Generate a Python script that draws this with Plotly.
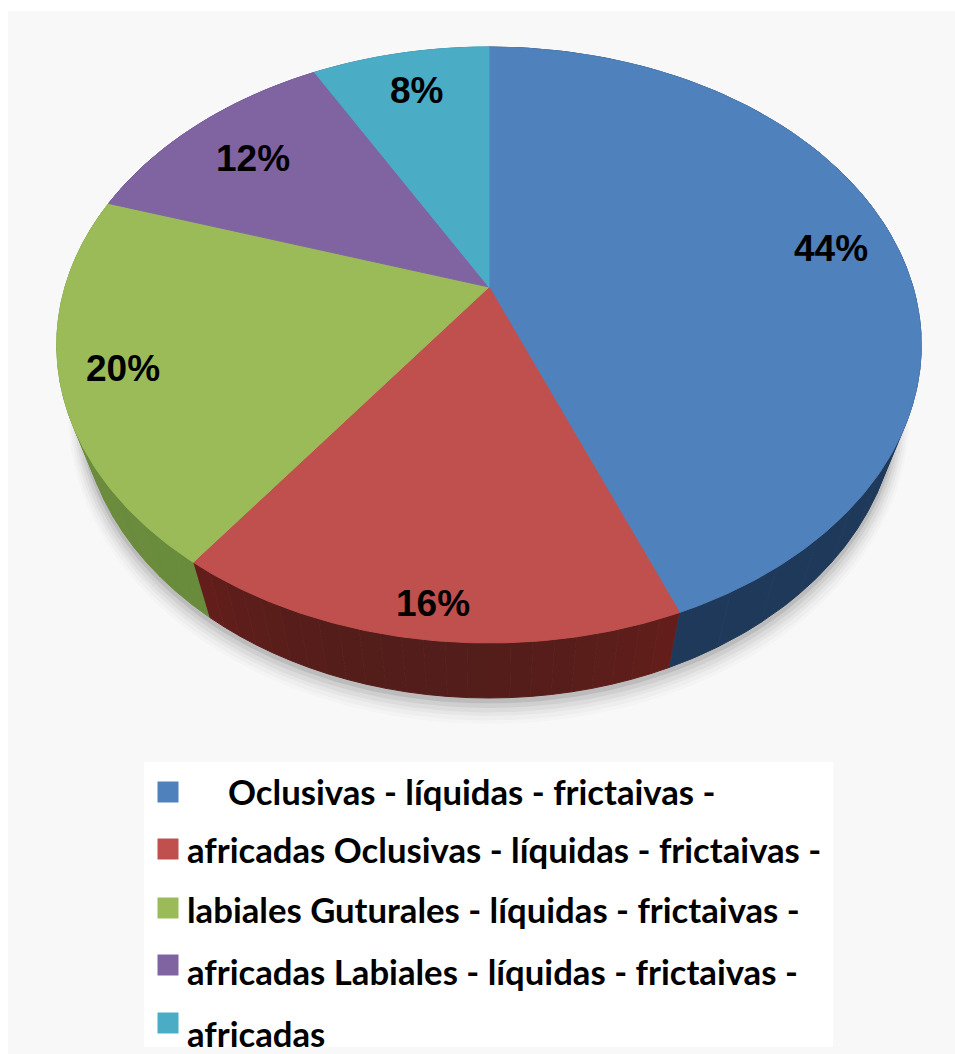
import numpy as np
import plotly.graph_objects as go

# ---- data ----
SHARES = [44, 16, 20, 12, 8]
PERCENT_LABELS = ["44%", "16%", "20%", "12%", "8%"]
LEGEND_LINES = [
    "Oclusivas - líquidas - frictaivas -",
    "africadas Oclusivas - líquidas - frictaivas -",
    "labiales Guturales - líquidas - frictaivas -",
    "africadas Labiales - líquidas - frictaivas -",
    "africadas",
]

# ---- style / layout ----
W, H = 955, 1054
TOP_COLORS = ["#4f81bd", "#c0504d", "#9bbb59", "#8064a2", "#4bacc6"]
SIDE_CENTER = [(30, 57, 90), (82, 29, 26), (108, 139, 61), (85, 64, 122), (44, 127, 150)]
SIDE_EDGE = [(30, 57, 90), (100, 30, 27), (104, 140, 60), (85, 64, 122), (44, 127, 150)]
APEX_X, APEX_Y = 489, 287
SCALE_X, SCALE_Y, PERSPECTIVE = 424, 286.7, 0.1946
DEPTH = 55
SIDE_SHRINK = 0.945
LABEL_XY = [(831, 248), (433, 603), (123, 368), (253, 158), (416, 90)]
LEGEND_Y = [791, 849, 909, 971, 1033]
LEGEND_X = [226, 185, 185, 185, 185]
SWATCH_Y = [792, 849, 908, 965, 1023]
FONT_LEGEND = "Lato"


def rim(a, shrink=1.0, drop=0.0, grow=0.0):
    """Project points of the pie's circular rim (angle in radians, clockwise from top)."""
    u, v = np.sin(a), np.cos(a)
    d = 1 + PERSPECTIVE * v
    x = APEX_X + (SCALE_X * shrink + grow) * u / d
    y = APEX_Y - (SCALE_Y + grow) * v / d + drop
    return x, y


def arc(start, end):
    n = max(int(abs(end - start) * 90), 8)
    return np.linspace(start, end, n)


fractions = np.cumsum([0] + SHARES) / sum(SHARES)
angles = 2 * np.pi * fractions

fig = go.Figure()

# soft shadow under the pie
full = np.linspace(0, 2 * np.pi, 360)
for grow, drop, alpha in [(12, 66, 0.02), (10, 65, 0.03), (8, 63, 0.04), (6, 62, 0.06), (4, 60, 0.08), (2, 58, 0.12)]:
    sx, sy = rim(full, SIDE_SHRINK, drop, grow)
    fig.add_trace(go.Scatter(x=sx, y=sy, mode="lines", fill="toself", line=dict(width=0),
                             fillcolor=f"rgba(60,60,60,{alpha})", hoverinfo="skip", showlegend=False))

# side walls, shaded along the arc in narrow bands
for i in range(len(SHARES)):
    edges = np.linspace(angles[i], angles[i + 1], 25)
    for j in range(len(edges) - 1):
        t = abs((j + 0.5) / (len(edges) - 1) * 2 - 1) ** 2
        col = [round(c + (e - c) * t) for c, e in zip(SIDE_CENTER[i], SIDE_EDGE[i])]
        color = f"rgb({col[0]},{col[1]},{col[2]})"
        a = arc(edges[j], edges[j + 1])
        x0, y0 = rim(a)
        x1, y1 = rim(a, SIDE_SHRINK, DEPTH)
        fig.add_trace(go.Scatter(x=np.r_[x0, x1[::-1]], y=np.r_[y0, y1[::-1]], mode="lines", fill="toself",
                                 line=dict(width=1, color=color), fillcolor=color,
                                 hoverinfo="skip", showlegend=False))

# top face
for i in range(len(SHARES)):
    a = arc(angles[i], angles[i + 1])
    x0, y0 = rim(a)
    fig.add_trace(go.Scatter(x=np.r_[APEX_X, x0, APEX_X], y=np.r_[APEX_Y, y0, APEX_Y], mode="lines",
                             fill="toself", line=dict(width=1, color=TOP_COLORS[i]),
                             fillcolor=TOP_COLORS[i], name=PERCENT_LABELS[i],
                             hoverinfo="skip", showlegend=False))

# legend swatches
fig.add_trace(go.Scatter(x=[168] * len(SWATCH_Y), y=SWATCH_Y, mode="markers",
                         marker=dict(symbol="square", size=21, color=TOP_COLORS, line=dict(width=0)),
                         hoverinfo="skip", showlegend=False))

annotations = []
for label, (x, y) in zip(PERCENT_LABELS, LABEL_XY):
    annotations.append(dict(x=x, y=y, xref="x", yref="y", text=f"<b>{label}</b>", showarrow=False,
                            xanchor="center", yanchor="middle",
                            font=dict(family="Liberation Sans", size=37, color="#000000")))
for text, x, y in zip(LEGEND_LINES, LEGEND_X, LEGEND_Y):
    annotations.append(dict(x=x, y=y, xref="x", yref="y", text=f"<b>{text}</b>", showarrow=False,
                            xanchor="left", yanchor="middle",
                            font=dict(family=FONT_LEGEND, size=34.7, color="#000000")))

fig.update_layout(
    width=W, height=H, margin=dict(l=0, r=0, t=0, b=0),
    paper_bgcolor="#ffffff", plot_bgcolor="#ffffff",
    xaxis=dict(range=[0, W], visible=False, fixedrange=True),
    yaxis=dict(range=[H, 0], visible=False, fixedrange=True),
    annotations=annotations,
    shapes=[
        dict(type="rect", x0=8, y0=11, x1=W, y1=H, layer="below", line=dict(width=0), fillcolor="#f8f8f8"),
        dict(type="rect", x0=144, y0=762, x1=833, y1=1047, layer="below", line=dict(width=0), fillcolor="#ffffff"),
    ],
)
fig.write_html("out.html", default_width=f"{W}px", default_height=f"{H}px",
               config={"displayModeBar": False},
               post_script="document.body.style.margin='0';document.body.style.overflow='hidden';")
